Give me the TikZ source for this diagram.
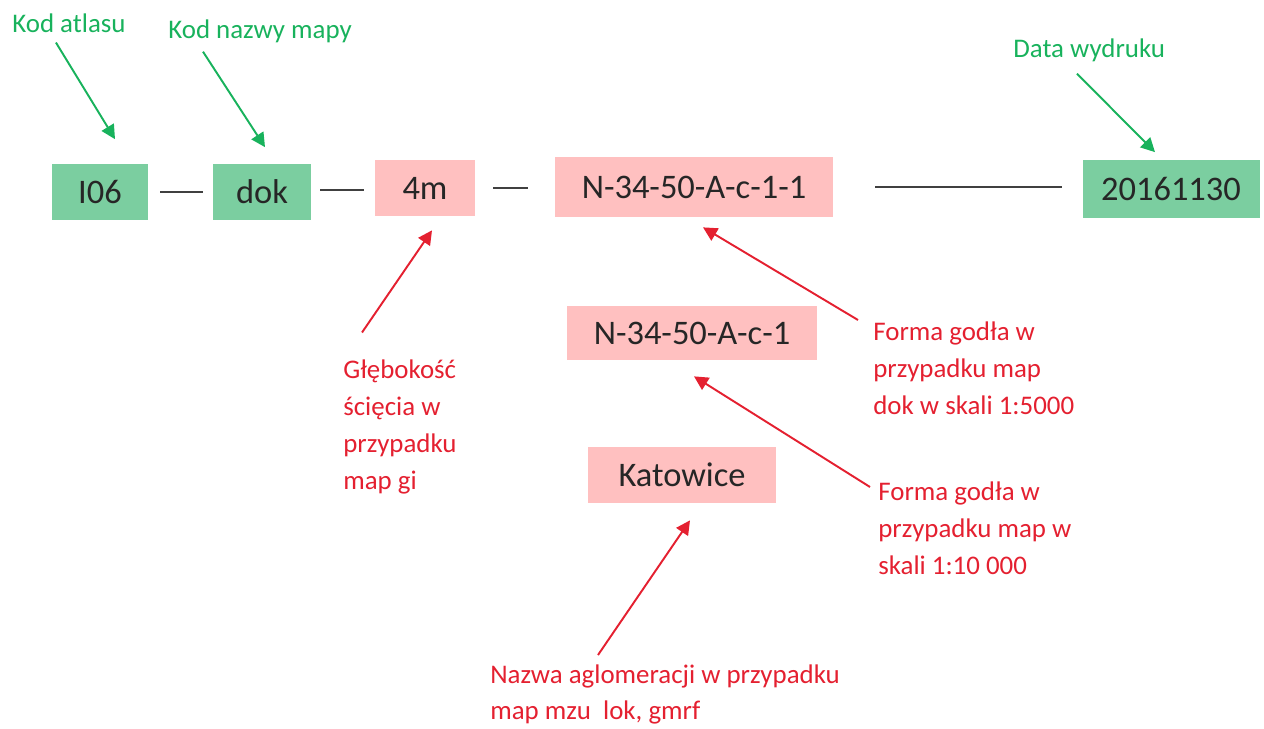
\documentclass[tikz,border=0pt]{standalone}
\usepackage{fontspec}
\setmainfont{Carlito}
\usetikzlibrary{arrows.meta}
\definecolor{polezielone}{RGB}{123,206,160}
\definecolor{polerozowe}{RGB}{255,192,192}
\definecolor{opiszielony}{RGB}{24,178,92}
\definecolor{opisczerwony}{RGB}{228,32,48}
\tikzset{
		pole/.style={rectangle,inner sep=0pt,text=black!85,font=\fontsize{19.6}{24}\selectfont},
		pole zielone/.style={pole,fill=polezielone},
		pole rozowe/.style={pole,fill=polerozowe},
		opis/.style={align=left,inner sep=0pt,font=\fontsize{15.3}{21}\selectfont},
		}
\tikzset{strzalka/.style={line width=1.1pt,-{Triangle[length=8pt,width=8pt]}}}
\tikzset{kreska/.style={line width=1.1pt,black!75}}

\begin{document}
\begin{tikzpicture}[auto,node distance=3.24cm]
					\useasboundingbox (0,0) rectangle (25.28,-14.58);
					%NODES for the code
					\node[pole zielone,minimum width=1.92cm,minimum height=1.10cm](i06) at (2.00,-3.84){I06};
					\node[pole zielone,minimum width=1.96cm,minimum height=1.10cm](dok)[right of = i06]{dok};
					\node[pole rozowe,minimum width=2.00cm,minimum height=1.12cm](m4)[right of = dok, node distance=3.26cm, yshift=0.8mm]{4m\hspace{0.44cm}};
					\node[pole rozowe,minimum width=5.56cm,minimum height=1.20cm](godlo)[right of = m4, node distance=5.38cm, yshift=0.2mm]{N-34-50-A-c-1-1};
					\node[pole zielone,minimum width=3.54cm,minimum height=1.14cm](data)[right of = godlo, node distance=9.54cm, yshift=-0.4mm]{20161130};
					\node[pole rozowe,minimum width=5.00cm,minimum height=1.08cm](godlob)[below of = godlo, node distance=2.92cm, xshift=-0.4mm]{N-34-50-A-c-1};
					\node[pole rozowe,minimum width=3.76cm,minimum height=1.12cm](katow)[below of = godlob, node distance=2.84cm, xshift=-2mm]{Katowice\hspace{0.36cm}};
					%NODES for the notes
					\node[opis,text=opiszielony,anchor=base west](katlas) at (0.24,-0.66){Kod atlasu};
					\node[opis,text=opiszielony,anchor=base west](knazwy) at (3.36,-0.78){Kod nazwy mapy};
					\node[opis,text=opiszielony,anchor=base west](datawyd) at (20.26,-1.16){Data wydruku};
					\node[opis,text=opisczerwony,anchor=north west](glebok) at (6.86,-7.19){Głębokość\\ścięcia w\\przypadku\\map gi};
					\node[opis,text=opisczerwony,anchor=north west](forma1) at (17.46,-6.43){Forma godła w\\przypadku map\\dok w skali 1:5000};
					\node[opis,text=opisczerwony,anchor=north west](forma2) at (17.56,-9.63){Forma godła w\\przypadku map w\\skali 1:10 000};
					\node[opis,text=opisczerwony,anchor=north west](nazwa) at (9.80,-13.28){Nazwa aglomeracji w przypadku\\map mzu\ \ lok, gmrf};
					%PATHS between the fields
					\draw[kreska,shorten <=2.4mm,shorten >=2mm] (i06.east) -- (dok.west);
					\draw[kreska,shorten <=1.8mm,shorten >=2.2mm] ([yshift=0.4mm]dok.east) -- ([yshift=0.4mm]dok.east -| m4.west);
					\draw[kreska,shorten <=3.6mm,shorten >=5.4mm] (m4.east) -- (m4.east -| godlo.west);
					\draw[kreska,shorten <=8.4mm,shorten >=4mm] (godlo.east) -- (godlo.east -| data.west);
					%ARROWS
					\draw[strzalka,opiszielony] ([xshift=-2.6mm,yshift=-1.8mm]katlas.south) -- ([xshift=3mm,yshift=5mm]i06.north);
					\draw[strzalka,opiszielony] ([xshift=7mm,yshift=-1.6mm]knazwy.south west) -- ([xshift=0.6mm,yshift=3.4mm]dok.north);
					\draw[strzalka,opiszielony] ([xshift=12.8mm,yshift=-2.2mm]datawyd.south west) -- ([xshift=-3.2mm,yshift=1.6mm]data.north);
					\draw[strzalka,opisczerwony] ([xshift=3.8mm,yshift=5.4mm]glebok.north west) -- ([xshift=1.4mm,yshift=-2.8mm]m4.south);
					\draw[strzalka,opisczerwony] ([xshift=-3mm,yshift=0.3mm]forma1.north west) -- ([xshift=1.8mm,yshift=-2mm]godlo.south);
					\draw[strzalka,opisczerwony] ([xshift=-1.6mm,yshift=-1.1mm]forma2.north west) -- ([xshift=0.4mm,yshift=-3.2mm]godlob.south);
					\draw[strzalka,opisczerwony] ([xshift=21.6mm,yshift=1.8mm]nazwa.north west) -- ([xshift=1.6mm,yshift=-3.4mm]katow.south);
				\end{tikzpicture}
\end{document}
